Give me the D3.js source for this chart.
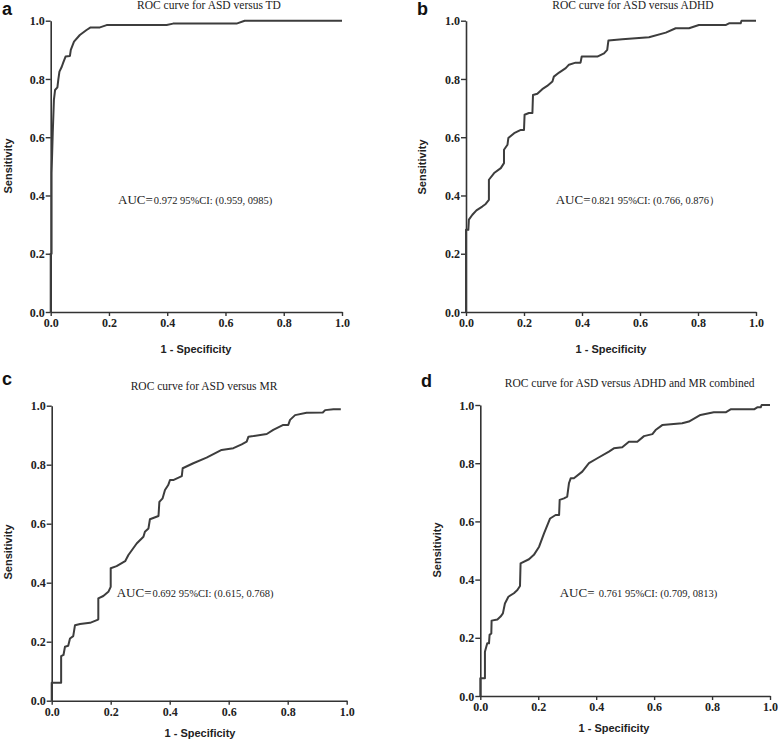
<!DOCTYPE html>
<html>
<head>
<meta charset="utf-8">
<script src="https://cdn.jsdelivr.net/npm/d3@7"></script>
<style>
  html, body { margin: 0; padding: 0; background: #fff; }
  svg { display: block; }
</style>
</head>
<body>
<svg id="chart" width="778" height="742"></svg>
<script>
// ---------- DATA ----------
const ticks = [0.0, 0.2, 0.4, 0.6, 0.8, 1.0];

const titles = [
  "ROC curve for ASD versus TD",
  "ROC curve for ASD versus ADHD",
  "ROC curve for ASD versus MR",
  "ROC curve for ASD versus ADHD and MR combined"
];
const panelLetters = ["a", "b", "c", "d"];
const aucLabels = ["AUC=", "AUC=", "AUC=", "AUC= "];
const aucTexts = [
  "0.972 95%CI: (0.959, 0985)",
  "0.821 95%CI: (0.766, 0.876）",
  "0.692 95%CI: (0.615, 0.768)",
  "0.761 95%CI: (0.709, 0813)"
];

// Panel a: ASD vs TD
const aFpr = [0, 0, 0.003, 0.003, 0.007, 0.011, 0.015, 0.023, 0.026, 0.030, 0.038, 0.043, 0.051, 0.066, 0.069, 0.080, 0.100, 0.123, 0.137, 0.169, 0.192, 0.398, 0.420, 0.638, 0.666, 1.0];
const aTpr = [0, 0.200, 0.200, 0.477, 0.614, 0.728, 0.762, 0.771, 0.797, 0.825, 0.842, 0.856, 0.877, 0.879, 0.900, 0.928, 0.951, 0.968, 0.977, 0.977, 0.985, 0.985, 0.990, 0.990, 1.0, 1.0];

// Panel b: ASD vs ADHD
const bFpr = [0, 0, 0.008, 0.010, 0.022, 0.036, 0.056, 0.068, 0.079, 0.079, 0.097, 0.120, 0.131, 0.131, 0.143, 0.146, 0.166, 0.189, 0.200, 0.202, 0.217, 0.229, 0.231, 0.246, 0.263, 0.280, 0.298, 0.303, 0.321, 0.344, 0.355, 0.378, 0.395, 0.399, 0.453, 0.476, 0.487, 0.491, 0.539, 0.631, 0.689, 0.723, 0.769, 0.803, 0.895, 0.907, 0.947, 0.950, 1.0];
const bTpr = [0, 0.282, 0.282, 0.317, 0.334, 0.349, 0.362, 0.371, 0.385, 0.454, 0.477, 0.494, 0.511, 0.557, 0.574, 0.597, 0.614, 0.625, 0.625, 0.677, 0.683, 0.683, 0.745, 0.749, 0.765, 0.776, 0.791, 0.808, 0.822, 0.837, 0.849, 0.856, 0.856, 0.877, 0.877, 0.888, 0.900, 0.932, 0.936, 0.943, 0.959, 0.974, 0.974, 0.985, 0.985, 0.991, 0.991, 1.0, 1.0];

// Panel c: ASD vs MR
const cFpr = [0, 0, 0.032, 0.032, 0.040, 0.045, 0.056, 0.062, 0.073, 0.079, 0.096, 0.130, 0.153, 0.158, 0.158, 0.175, 0.192, 0.200, 0.200, 0.220, 0.249, 0.260, 0.288, 0.311, 0.316, 0.328, 0.333, 0.362, 0.365, 0.376, 0.384, 0.395, 0.401, 0.412, 0.441, 0.444, 0.480, 0.525, 0.576, 0.616, 0.644, 0.661, 0.667, 0.684, 0.729, 0.751, 0.785, 0.802, 0.808, 0.825, 0.864, 0.919, 0.927, 0.955, 0.980];
const cTpr = [0, 0.061, 0.061, 0.151, 0.155, 0.183, 0.186, 0.211, 0.219, 0.256, 0.260, 0.264, 0.273, 0.276, 0.347, 0.355, 0.369, 0.386, 0.449, 0.456, 0.473, 0.494, 0.533, 0.556, 0.573, 0.584, 0.615, 0.626, 0.674, 0.686, 0.714, 0.731, 0.748, 0.748, 0.761, 0.788, 0.805, 0.824, 0.850, 0.856, 0.869, 0.878, 0.895, 0.897, 0.904, 0.918, 0.935, 0.935, 0.952, 0.968, 0.976, 0.977, 0.985, 0.988, 0.988];

// Panel d: ASD vs ADHD and MR combined
const dFpr = [0, 0, 0.016, 0.016, 0.024, 0.030, 0.032, 0.038, 0.039, 0.059, 0.070, 0.078, 0.085, 0.097, 0.116, 0.128, 0.137, 0.139, 0.168, 0.185, 0.203, 0.220, 0.241, 0.260, 0.272, 0.274, 0.289, 0.300, 0.306, 0.312, 0.323, 0.352, 0.375, 0.404, 0.444, 0.461, 0.490, 0.513, 0.542, 0.565, 0.594, 0.605, 0.628, 0.697, 0.720, 0.760, 0.806, 0.847, 0.864, 0.945, 0.956, 0.968, 0.971, 1.0];
const dTpr = [0, 0.061, 0.061, 0.152, 0.181, 0.181, 0.210, 0.215, 0.259, 0.263, 0.273, 0.284, 0.318, 0.341, 0.353, 0.364, 0.378, 0.456, 0.470, 0.485, 0.513, 0.559, 0.610, 0.622, 0.622, 0.674, 0.679, 0.685, 0.731, 0.748, 0.748, 0.771, 0.800, 0.817, 0.840, 0.851, 0.855, 0.874, 0.874, 0.893, 0.900, 0.914, 0.931, 0.937, 0.943, 0.966, 0.975, 0.975, 0.985, 0.985, 0.992, 0.992, 1.0, 1.0];

const seriesX = [aFpr, bFpr, cFpr, dFpr];
const seriesY = [aTpr, bTpr, cTpr, dTpr];

// ---------- LAYOUT ----------
const panels = [
  { x0: 50.7, x1: 342, y0: 312, y1: 20.7, titleX: 209, titleY: 9, letterX: 2, letterY: 15,
    ylabX: 8, ylabY: 166, xlabX: 196, xlabY: 353, aucX: 118, aucY: 204 },
  { x0: 466, x1: 756, y0: 312, y1: 20.7, titleX: 633, titleY: 9, letterX: 417, letterY: 15,
    ylabX: 422, ylabY: 167, xlabX: 611, xlabY: 353, aucX: 555.7, aucY: 204 },
  { x0: 51.7, x1: 346.7, y0: 700.7, y1: 405.7, titleX: 204, titleY: 390, letterX: 2, letterY: 385,
    ylabX: 8, ylabY: 552, xlabX: 200, xlabY: 737, aucX: 116.7, aucY: 597 },
  { x0: 480.3, x1: 770, y0: 696, y1: 405, titleX: 629.7, titleY: 387, letterX: 421, letterY: 387,
    ylabX: 437, ylabY: 550, xlabX: 614, xlabY: 732, aucX: 559.7, aucY: 597 }
];

const svg = d3.select("#chart");
const lineColor = "#3d3d3d";
const serif = "'Liberation Serif', 'Times New Roman', serif";
const sans = "'Liberation Sans', Arial, sans-serif";

panels.forEach((p, i) => {
  const x = d3.scaleLinear().domain([0, 1]).range([p.x0, p.x1]);
  const y = d3.scaleLinear().domain([0, 1]).range([p.y0, p.y1]);
  const g = svg.append("g");

  // axes
  const xAxis = d3.axisBottom(x).tickValues(ticks).tickFormat(d3.format(".1f")).tickSize(4).tickSizeOuter(0);
  const yAxis = d3.axisLeft(y).tickValues(ticks).tickFormat(d3.format(".1f")).tickSize(5).tickSizeOuter(0);

  const gx = g.append("g").attr("transform", `translate(0,${p.y0})`).call(xAxis);
  const gy = g.append("g").attr("transform", `translate(${p.x0},0)`).call(yAxis);

  [gx, gy].forEach(ax => {
    ax.attr("font-family", null).attr("font-size", null);
    ax.select(".domain").attr("stroke", "#333").attr("stroke-width", 1.6);
    ax.selectAll(".tick line").attr("stroke", "#333").attr("stroke-width", 1.4);
    ax.selectAll(".tick text")
      .attr("fill", "#222")
      .style("font-family", serif)
      .style("font-weight", "bold")
      .style("font-size", "12px");
  });
  gx.selectAll(".tick text").attr("dy", "0.95em").attr("y", 4);
  gy.selectAll(".tick text").attr("x", -6).attr("dy", "0.34em");

  // curve
  const pts = seriesX[i].map((v, k) => [v, seriesY[i][k]]);
  const line = d3.line().x(d => x(d[0])).y(d => y(d[1]));
  g.append("path")
    .datum(pts)
    .attr("d", line)
    .attr("fill", "none")
    .attr("stroke", lineColor)
    .attr("stroke-width", 2)
    .attr("stroke-linejoin", "round");

  // title
  g.append("text")
    .attr("x", p.titleX).attr("y", p.titleY)
    .attr("text-anchor", "middle")
    .style("font-family", serif)
    .style("font-size", "11.5px")
    .attr("fill", "#222")
    .text(titles[i]);

  // panel letter
  g.append("text")
    .attr("x", p.letterX).attr("y", p.letterY)
    .style("font-family", sans)
    .style("font-weight", "bold")
    .style("font-size", "18px")
    .attr("fill", "#111")
    .text(panelLetters[i]);

  // y label
  g.append("text")
    .attr("transform", `translate(${p.ylabX + 4},${p.ylabY}) rotate(-90)`)
    .attr("text-anchor", "middle")
    .style("font-family", sans)
    .style("font-weight", "bold")
    .style("font-size", "11px")
    .attr("fill", "#222")
    .text("Sensitivity");

  // x label
  g.append("text")
    .attr("x", p.xlabX).attr("y", p.xlabY)
    .attr("text-anchor", "middle")
    .style("font-family", sans)
    .style("font-weight", "bold")
    .style("font-size", "11px")
    .attr("fill", "#222")
    .text("1 - Specificity");

  // AUC annotation
  const t = g.append("text")
    .attr("x", p.aucX).attr("y", p.aucY)
    .style("font-family", serif)
    .attr("fill", "#222");
  t.append("tspan").style("font-size", "13px").text(aucLabels[i]);
  t.append("tspan").style("font-size", "10.5px").attr("dx", 1).text(aucTexts[i]);
});
</script>
</body>
</html>
